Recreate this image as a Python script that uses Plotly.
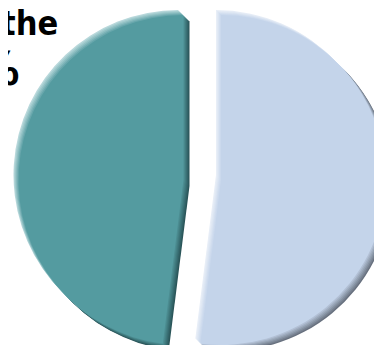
import plotly.graph_objects as go

# Data
labels = ["Group A", "Group B"]
values = [52, 48]
slice_colors = ["#C4D4EA", "#549BA0"]
dark_colors = ["#68717F", "#2A5559"]
light_colors = ["#E8EEF7", "#B8D8DB"]
title_lines = ["the", "%"]

# The page adds an 8px body margin, so positions below are in figure pixels
W, H = 386, 345
R = 165
centers = [(213.0, 172.0), (175.5, 172.0)]  # pixel centres of each pulled slice
DARK_SHIFT = 6
LIGHT_SHIFT = 5


def mix(c1, c2, t):
    a = [int(c1[i:i + 2], 16) for i in (1, 3, 5)]
    b = [int(c2[i:i + 2], 16) for i in (1, 3, 5)]
    return "#" + "".join(f"{round(a[j] + (b[j] - a[j]) * t):02x}" for j in range(3))


fig = go.Figure()


def add_layer(idx, color, cx, cy, r):
    cols = ["rgba(0,0,0,0)"] * len(values)
    cols[idx] = color
    fig.add_trace(go.Pie(
        labels=labels, values=values, sort=False, direction="clockwise", rotation=0,
        marker=dict(colors=cols, line=dict(width=0)),
        textinfo="none", hoverinfo="skip", showlegend=False,
        domain=dict(x=[(cx - r) / W, (cx + r) / W],
                    y=[1 - (cy + r) / H, 1 - (cy - r) / H]),
    ))


for idx in range(len(values)):
    cx, cy = centers[idx]
    for k in range(DARK_SHIFT, 0, -1):
        t = (k - 1) / (DARK_SHIFT - 1)
        add_layer(idx, mix(slice_colors[idx], dark_colors[idx], 0.2 + 0.8 * t), cx + k, cy + k, R)
    for k in range(LIGHT_SHIFT, 0, -1):
        t = (k - 1) / (LIGHT_SHIFT - 1)
        add_layer(idx, mix(slice_colors[idx], light_colors[idx], 0.2 + 0.8 * t), cx - k, cy - k, R)
    add_layer(idx, slice_colors[idx], cx, cy, R)

FAMILY = "DejaVu Sans Condensed, DejaVu Sans"
fig.add_annotation(text="<b>" + title_lines[0] + "</b>", xref="paper", yref="paper",
                   x=-9 / W, y=1 + 7 / H, xanchor="left", yanchor="top", showarrow=False,
                   font=dict(family=FAMILY, size=34, color="#000000"))
fig.add_annotation(text="<b>" + title_lines[1] + "</b>", xref="paper", yref="paper",
                   x=13 / W, y=1 - 32 / H, xanchor="right", yanchor="top", showarrow=False,
                   font=dict(family=FAMILY, size=46, color="#000000"))

fig.update_layout(width=W, height=H, margin=dict(l=0, r=0, t=0, b=0),
                  paper_bgcolor="#FFFFFF", plot_bgcolor="#FFFFFF")
fig.write_html("out.html")
